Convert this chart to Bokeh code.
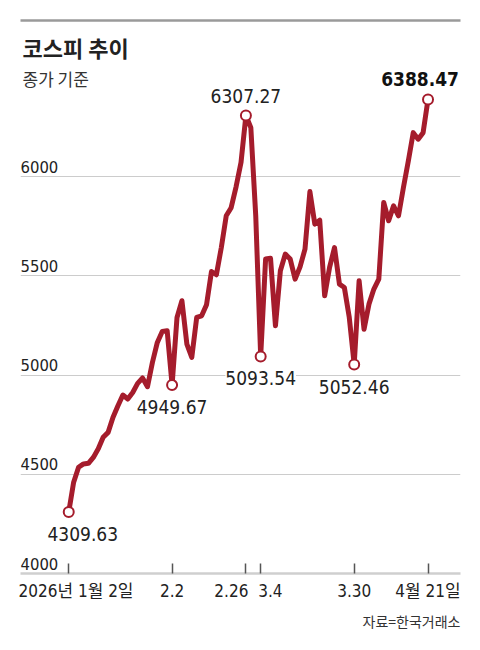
from bokeh.plotting import figure
from bokeh.models import (ColumnDataSource, LabelSet, Label, FixedTicker, Grid,
                          LinearAxis, Range1d, Title)
from bokeh.core.properties import value
from bokeh.embed import file_html
from bokeh.resources import INLINE

# KOSPI closes, trading days 2026-01-02 .. 2026-04-21
kospi = [4309.63, 4460, 4535, 4552, 4555, 4585, 4628, 4686, 4711, 4787,
         4845, 4899, 4879, 4912, 4958, 4985, 4941, 5063, 5164, 5219,
         5223, 4949.67, 5290, 5374, 5156, 5089, 5290, 5298, 5354, 5521,
         5505, 5642, 5802, 5843, 5948, 6070, 6307.27, 6246, 5800, 5093.54,
         5584, 5588, 5248, 5525, 5609, 5584, 5483, 5545, 5634, 5924,
         5760, 5780, 5399, 5542, 5642, 5458, 5441, 5290, 5052.46, 5475,
         5231, 5357, 5433, 5483, 5869, 5777, 5852, 5802, 5944, 6078,
         6221, 6188, 6221, 6388.47]

tick_idx = [0, 21, 36, 39, 58, 73]   # marked days (also x ticks)
tick_labels = ["2026년 1월 2일", "2.2", "2.26", "3.4", "3.30", "4월 21일"]
y_ticks = [4000, 4500, 5000, 5500, 6000]
y_tick_labels = ["4000", "4500", "5000", "5500", "6000"]

NUM = "Liberation Sans Narrow, DejaVu Sans Condensed, Noto Sans CJK KR, sans-serif"
KR = "Noto Sans CJK KR, sans-serif"
RED = "#a51c2c"
NB = "\u00a0"

days = list(range(len(kospi)))
src = ColumnDataSource(dict(day=days, close=kospi))

p = figure(width=480, height=650, output_backend="svg", toolbar_location=None,
           x_range=Range1d(-9.8, 79.6), y_range=Range1d(4000, 6786),
           y_axis_location=None,
           min_border_left=20, min_border_right=20,
           min_border_top=20, min_border_bottom=77)
p.outline_line_color = None
p.grid.visible = False

# horizontal grid
p.add_layout(Grid(dimension=1, ticker=FixedTicker(ticks=y_ticks),
                  grid_line_color="#cccccc", grid_line_width=1), "center")

# x axis; 2.26 and 3.4 are nudged apart like in the print version
nudged = list(tick_labels)
nudged[0] = NB * 3 + nudged[0]
nudged[2] = nudged[2] + NB * 6
nudged[3] = NB * 4 + nudged[3]
xa = p.xaxis[0]
xa.ticker = FixedTicker(ticks=tick_idx)
xa.major_label_overrides = dict(zip(tick_idx, nudged))
xa.minor_tick_line_color = None
xa.major_tick_in = 10
xa.major_tick_out = 0
xa.major_tick_line_color = "#555555"
xa.major_tick_line_width = 1.5
xa.axis_line_color = "#cfcfcf"
xa.axis_line_width = 2.5
xa.major_label_text_font = NUM
xa.major_label_text_font_size = "17px"
xa.major_label_text_color = "#222222"
xa.major_label_standoff = 7

# grey rule on top
rule = LinearAxis(ticker=FixedTicker(ticks=[]), axis_line_color="#9a9a9a",
                  axis_line_width=2.5, major_tick_line_color=None,
                  minor_tick_line_color=None, major_label_text_font_size="0px",
                  major_label_standoff=0)
p.add_layout(rule, "above")

# y tick labels sit inside the plot, above each grid line
ysrc = ColumnDataSource(dict(v=y_ticks, t=y_tick_labels))
p.add_layout(LabelSet(x=0, y="v", text="t", source=ysrc, x_units="screen",
                      y_offset=4, text_baseline="alphabetic",
                      text_font=value(NUM), text_font_size=value("16.5px"),
                      text_color="#222222"))

p.line("day", "close", source=src, line_color=RED, line_width=5,
       line_join="round")

# marked points
mk_y = [kospi[i] for i in tick_idx]
mk_txt = [f"{v:.2f}" for v in mk_y]
above = []
for i in tick_idx:
    nb = [kospi[j] for j in (i - 1, i + 1) if 0 <= j < len(kospi)]
    above.append(kospi[i] >= max(nb))
yoff = [13 if a else -29 for a in above]
xoff = [14 if i == 0 else 0 for i in tick_idx]
xoff[-1] = 31   # last label is right-aligned against the frame edge

mk = ColumnDataSource(dict(day=tick_idx, close=mk_y, txt=mk_txt,
                           yo=yoff, xo=xoff))
p.scatter("day", "close", source=mk, size=10, fill_color="white",
          line_color=RED, line_width=2)

n = len(tick_idx) - 1
rest = ColumnDataSource({k: v[:n] for k, v in mk.data.items()})
last = ColumnDataSource({k: v[n:] for k, v in mk.data.items()})
p.add_layout(LabelSet(x="day", y="close", text="txt", source=rest,
                      x_offset="xo", y_offset="yo", text_align="center",
                      text_baseline="alphabetic", text_font=value(NUM),
                      text_font_size=value("19px"), text_color="#222222",
                      background_fill_color="white"))
p.add_layout(LabelSet(x="day", y="close", text="txt", source=last,
                      x_offset="xo", y_offset="yo", text_align="right",
                      text_baseline="alphabetic", text_font=value(NUM),
                      text_font_size=value("19px"), text_font_style="bold",
                      text_color="#111111"))

# title block
p.add_layout(Label(x=2, y=543, x_units="screen", y_units="screen",
                   text="코스피 추이", text_baseline="top", text_font=KR,
                   text_font_size="22px", text_font_style="bold",
                   text_color="#222222"))
p.add_layout(Label(x=2, y=508, x_units="screen", y_units="screen",
                   text="종가 기준", text_baseline="top", text_font=KR,
                   text_font_size="17px", text_color="#333333"))

p.add_layout(Title(text="자료=한국거래소", align="right", text_font=KR,
                   text_font_size="14px", text_font_style="normal",
                   text_color="#333333"), "below")

open("out.html", "w", encoding="utf-8").write(file_html(p, INLINE, title="코스피 추이"))
